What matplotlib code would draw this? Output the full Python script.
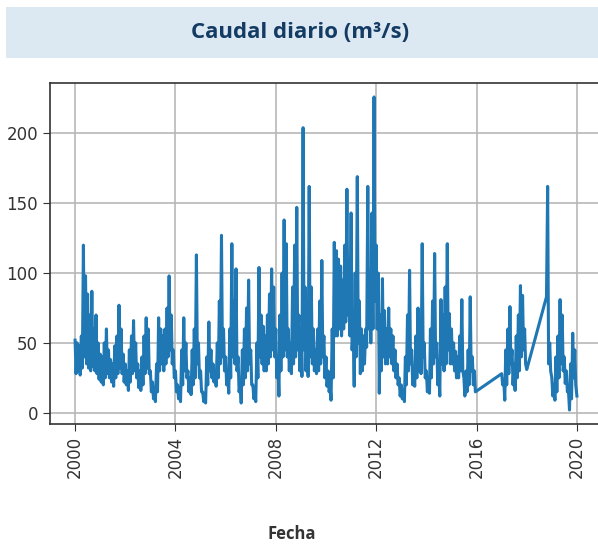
import pandas as pd
import numpy as np
import matplotlib.pyplot as plt
import matplotlib.dates as mdates
from matplotlib.patches import Rectangle

# --------------------------------------------
# DAILY FLOW (m3/s)
# two values per month: upper and lower edge of the band
# --------------------------------------------

q_2000 = [52, 28, 50, 30, 48, 27, 55, 32, 120, 40, 98, 35, 85, 32, 70, 30, 87, 33, 60, 30, 70, 28, 50, 24]
q_2001 = [42, 22, 40, 20, 50, 25, 60, 28, 45, 25, 38, 22, 35, 19, 48, 25, 55, 28, 77, 32, 60, 28, 42, 22]
q_2002 = [35, 20, 30, 16, 45, 22, 55, 28, 66, 30, 50, 25, 35, 18, 30, 16, 40, 20, 55, 28, 68, 32, 60, 28]
q_2003 = [30, 15, 22, 10, 18, 8, 35, 15, 68, 30, 60, 35, 55, 30, 60, 35, 75, 40, 98, 45, 70, 35, 45, 25]
q_2004 = [30, 15, 20, 10, 18, 8, 45, 20, 68, 30, 50, 25, 30, 15, 25, 13, 45, 20, 60, 25, 113, 35, 50, 25]
q_2005 = [30, 15, 15, 8, 12, 7, 40, 20, 65, 30, 45, 25, 35, 22, 30, 19, 50, 25, 80, 35, 127, 40, 60, 30]
q_2006 = [40, 20, 25, 14, 60, 25, 121, 40, 80, 35, 103, 30, 40, 15, 20, 7, 45, 20, 60, 25, 75, 30, 95, 35]
q_2007 = [45, 20, 20, 10, 15, 8, 50, 25, 104, 40, 70, 35, 62, 30, 55, 30, 70, 35, 85, 40, 103, 45, 90, 40]
q_2008 = [60, 25, 35, 12, 70, 30, 100, 40, 138, 45, 121, 40, 60, 30, 50, 28, 90, 35, 120, 40, 147, 45, 70, 30]
q_2009 = [60, 26, 204, 45, 90, 30, 70, 26, 162, 40, 90, 35, 60, 30, 45, 28, 60, 30, 80, 35, 109, 40, 55, 25]
q_2010 = [40, 19, 30, 15, 20, 9, 60, 25, 122, 55, 116, 55, 110, 60, 105, 55, 95, 60, 120, 65, 160, 70, 110, 55]
q_2011 = [143, 45, 60, 19, 100, 40, 169, 50, 80, 28, 60, 30, 55, 35, 60, 47, 162, 60, 100, 50, 143, 60, 226, 80]
q_2012 = [120, 60, 100, 14, 70, 30, 96, 40, 73, 35, 60, 35, 75, 40, 60, 35, 55, 30, 45, 25, 35, 20, 25, 12]
q_2013 = [20, 10, 15, 8, 40, 20, 70, 30, 102, 35, 45, 20, 30, 19, 55, 25, 75, 30, 60, 28, 121, 40, 50, 25]
q_2014 = [30, 15, 25, 14, 60, 25, 80, 35, 114, 40, 50, 20, 30, 12, 81, 35, 70, 30, 90, 35, 121, 45, 71, 35]
q_2015 = [60, 35, 50, 30, 44, 25, 40, 25, 55, 30, 81, 30, 25, 12, 30, 15, 45, 20, 83, 30, 40, 20, 30, 15]

# gap in 2016, record restarts in January 2017
q_2017 = [28, 20, 22, 9, 45, 20, 60, 28, 76, 35, 45, 20, 35, 16, 55, 25, 70, 30, 91, 40, 84, 45, 60, 35, 31]

# second gap, record restarts mid October 2018
q_2018_2019 = [83, 162, 35, 50, 30,
               25, 12, 20, 9, 40, 15, 55, 25, 81, 35, 70, 30, 40, 21, 30, 15, 15, 2, 35, 10, 57, 25, 45, 20,
               12]

yearly = [q_2000, q_2001, q_2002, q_2003, q_2004, q_2005, q_2006, q_2007,
          q_2008, q_2009, q_2010, q_2011, q_2012, q_2013, q_2014, q_2015]

# --------------------------------------------
# BUILD SERIES
# --------------------------------------------

parts = []
for i, vals in enumerate(yearly):
    d = pd.date_range(f"{2000 + i}-01-01", periods=len(vals), freq="SMS")
    parts.append(pd.Series(vals, index=d))

parts.append(pd.Series(q_2017, index=pd.date_range("2017-01-01", periods=len(q_2017), freq="SMS")))
parts.append(pd.Series(q_2018_2019, index=pd.date_range("2018-10-15", periods=len(q_2018_2019), freq="SMS")))

caudal = pd.concat(parts)

# --------------------------------------------
# PLOT
# --------------------------------------------

W, H = 598, 545
fig = plt.figure(figsize=(W / 100, H / 100), dpi=100)

# title banner
fig.patches.append(Rectangle((6 / W, 1 - 58 / H), 1, 51 / H, transform=fig.transFigure,
                             facecolor="#dce8f2", edgecolor="none", zorder=0))
fig.text(300 / W, 1 - 32 / H, "Caudal diario (m³/s)", ha="center", va="center",
         fontsize=16, fontweight="bold", color="#133b63", family="Open Sans")

ax = fig.add_axes([50 / W, 1 - 424 / H, 552 / W, 341 / H])

ax.plot(caudal.index, caudal.values, color="#1f77b4", linewidth=2.2)

ax.set_ylim(-8, 236)
ax.set_yticks([0, 50, 100, 150, 200])
ax.xaxis.set_major_locator(mdates.YearLocator(4))
ax.xaxis.set_major_formatter(mdates.DateFormatter("%Y"))

ax.grid(True, color="#b8b8b8", linewidth=1.2)
ax.set_axisbelow(True)
ax.tick_params(axis="both", labelsize=12, colors="#333333", length=5)
ax.tick_params(axis="x", labelrotation=90)
for s in ax.spines.values():
    s.set_color("#333333")
    s.set_linewidth(1.2)

fig.text(292 / W, 1 - 534 / H, "Fecha", ha="center", va="center",
         fontsize=12, fontweight="bold", color="#333333", family="Open Sans")

fig.savefig("out.png", dpi=100)
